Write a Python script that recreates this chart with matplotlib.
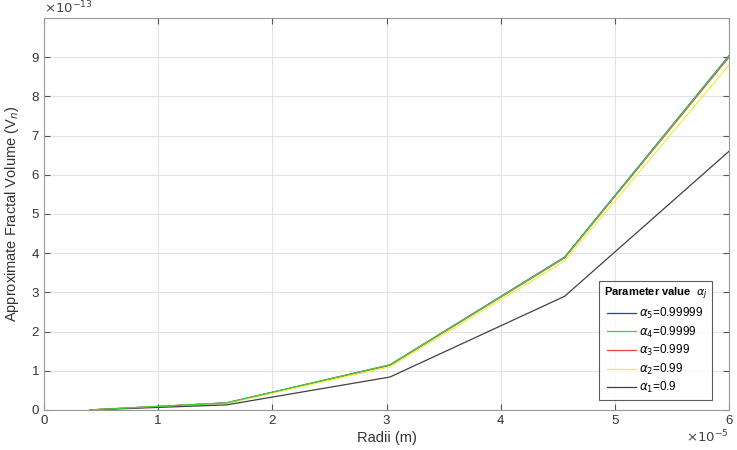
import matplotlib.pyplot as plt

plt.rcParams['font.family'] = ['Liberation Sans', 'DejaVu Sans']

# radii (x 1e-5 m) and volumes (x 1e-13)
radii = [0.4, 1.6, 3.03, 4.56, 6.0]
vol_a5 = [0.0, 0.18, 1.15, 3.90, 9.04]
vol_a4 = [0.0, 0.18, 1.15, 3.89, 9.03]
vol_a3 = [0.0, 0.18, 1.14, 3.88, 9.00]
vol_a2 = [0.0, 0.17, 1.10, 3.80, 8.80]
vol_a1 = [0.0, 0.13, 0.84, 2.90, 6.60]

labels = [r'$\alpha_5$=0.99999', r'$\alpha_4$=0.9999', r'$\alpha_3$=0.999',
          r'$\alpha_2$=0.99', r'$\alpha_1$=0.9']
colors = ['#3030e0', '#40d040', '#f04040', '#f0f040', '#404040']

fig = plt.figure(figsize=(7.37, 4.5), dpi=100)
ax = fig.add_axes([0.0597, 0.089, 0.9295, 0.871])

series = [vol_a5, vol_a4, vol_a3, vol_a2, vol_a1]
lines = []
for v, c, lab in zip(series, colors, labels):
    ln, = ax.plot(radii, v, color=c, lw=0.9, label=lab)
    lines.append(ln)
# green ends up on top of the coloured group
lines[1].set_zorder(3)

ax.set_xlim(0, 6)
ax.set_ylim(0, 10)
ax.set_xticks(range(0, 7))
ax.set_yticks(range(0, 10))
ax.grid(True, color='#e4e4e4', lw=0.8)
ax.set_axisbelow(True)
ax.tick_params(direction='in', length=4, width=0.8, colors='#555555',
               labelcolor='#333333', labelsize=9.5, top=True, right=True)
for s in ax.spines.values():
    s.set_color('#999999')
    s.set_linewidth(0.8)

ax.set_xlabel('Radii (m)', fontsize=10.5, color='#333333', labelpad=3)
ax.set_ylabel(r'Approximate Fractal Volume (V$_n$)', fontsize=10.5, color='#333333', labelpad=8)

ax.text(0.0, 1.005, r'$\times 10^{-13}$', transform=ax.transAxes, fontsize=9.5,
        color='#444444', ha='left', va='bottom')
ax.text(1.0, -0.068, r'$\times 10^{-5}$', transform=ax.transAxes, fontsize=9.5,
        color='#444444', ha='right', va='center')

leg = ax.legend(loc='lower right', bbox_to_anchor=(0.975, 0.025), fontsize=8.5,
                title=r'Parameter value  $\alpha_j$', title_fontproperties={'weight': 'bold', 'size': 8},
                frameon=True, fancybox=False, edgecolor='#333333', handlelength=2.4,
                borderpad=0.4, labelspacing=0.3, handletextpad=0.3, borderaxespad=0.0)
leg.get_frame().set_linewidth(0.8)

fig.savefig('out.png', dpi=100)
